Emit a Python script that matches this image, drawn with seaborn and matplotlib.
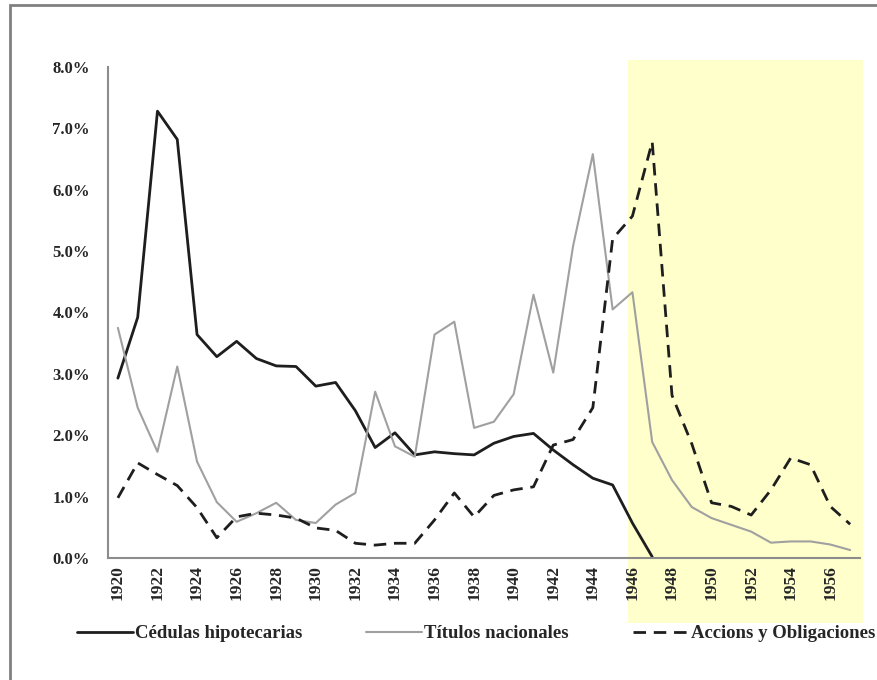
import matplotlib
matplotlib.use("Agg")
import matplotlib.pyplot as plt
import matplotlib.patches as patches
from matplotlib.lines import Line2D
import seaborn as sns
import pandas as pd

# data (percent)
years = list(range(1920, 1958))
cedulas_years = list(range(1920, 1948))
cedulas = [2.93, 3.92, 7.28, 6.82, 3.64, 3.28, 3.53, 3.25, 3.13, 3.12,
           2.80, 2.86, 2.40, 1.80, 2.04, 1.68, 1.73, 1.70, 1.68, 1.87,
           1.98, 2.03, 1.76, 1.52, 1.30, 1.19, 0.57, 0.02]
titulos = [3.75, 2.45, 1.73, 3.12, 1.57, 0.91, 0.59, 0.73, 0.90, 0.62,
           0.57, 0.87, 1.06, 2.71, 1.82, 1.65, 3.64, 3.85, 2.12, 2.22,
           2.67, 4.29, 3.02, 5.08, 6.58, 4.05, 4.33, 1.89, 1.27, 0.83,
           0.65, 0.54, 0.43, 0.25, 0.27, 0.27, 0.22, 0.13]
acciones = [0.98, 1.55, 1.36, 1.18, 0.82, 0.33, 0.67, 0.73, 0.70, 0.65,
            0.49, 0.45, 0.24, 0.21, 0.24, 0.24, 0.62, 1.06, 0.67, 1.02,
            1.11, 1.16, 1.84, 1.93, 2.45, 5.20, 5.57, 6.78, 2.65, 1.86,
            0.90, 0.84, 0.70, 1.11, 1.63, 1.52, 0.84, 0.55]
labels = ["Cédulas hipotecarias", "Títulos nacionales", "Accions y Obligaciones"]
label_years = list(range(1920, 1958, 2))

sns.set_style("white")
plt.rcParams['font.family'] = ['Liberation Serif', 'DejaVu Serif']
plt.rcParams['font.weight'] = 'bold'

fig = plt.figure(figsize=(8.78, 6.8), dpi=100)
ax = fig.add_axes([0.123, 0.1794, 0.8565, 0.7221])
ax.set_facecolor('none')

# shaded period
ax.axvspan(1945.78, 1957.65, ymin=-0.132, ymax=1.014, color='#FFFFCC',
           lw=0, zorder=0, clip_on=False)

df_c = pd.DataFrame({'year': cedulas_years, 'v': cedulas})
df_t = pd.DataFrame({'year': years, 'v': titulos})
df_a = pd.DataFrame({'year': years, 'v': acciones})

sns.lineplot(data=df_c, x='year', y='v', ax=ax, color='#1e1e1e', lw=2.0)
sns.lineplot(data=df_t, x='year', y='v', ax=ax, color='#a0a0a0', lw=1.5)
sns.lineplot(data=df_a, x='year', y='v', ax=ax, color='#1e1e1e', lw=2.0)
ax.lines[-1].set_dashes((4.5, 2.8))

ax.set_xlim(1919.5, 1957.5)
ax.set_ylim(0, 8)
ax.set_xlabel('')
ax.set_ylabel('')

ax.set_yticks(range(0, 9))
ax.set_yticklabels([f'{v:.1f}%' for v in range(0, 9)], fontsize=12,
                   fontweight='bold')
ax.tick_params(axis='y', length=0, pad=13)

ax.set_xticks([y + 0.5 for y in range(1919, 1958)])
ax.set_xticklabels([])
ax.tick_params(axis='x', which='major', length=4, width=1, color='#8c8c8c',
               direction='out')
ax.set_xticks(label_years, minor=True)
ax.set_xticklabels([str(y) for y in label_years], minor=True, rotation=90,
                   fontsize=12.5, fontweight='bold')
ax.tick_params(axis='x', which='minor', length=0, pad=5)

for s in ['top', 'right']:
    ax.spines[s].set_visible(False)
for s in ['left', 'bottom']:
    ax.spines[s].set_color('#8c8c8c')
    ax.spines[s].set_linewidth(1.5)

handles = [Line2D([], [], color='#1e1e1e', lw=2.0),
           Line2D([], [], color='#a0a0a0', lw=1.5),
           Line2D([], [], color='#1e1e1e', lw=2.0, dashes=(4.5, 2.8))]
fig.legend(handles, labels, loc='center', bbox_to_anchor=(0.542, 0.068),
           ncol=3, frameon=False, handlelength=3.0,
           handletextpad=0.1, columnspacing=3.4,
           prop={'weight': 'bold', 'size': 13.5})

# outer chart frame
fig.patches.append(patches.Rectangle((10 / 878, -0.1), 1.2, 1.1 - 5 / 680,
                                     transform=fig.transFigure, fill=False,
                                     edgecolor='#808080', lw=2))

fig.savefig('out.png', dpi=100)
